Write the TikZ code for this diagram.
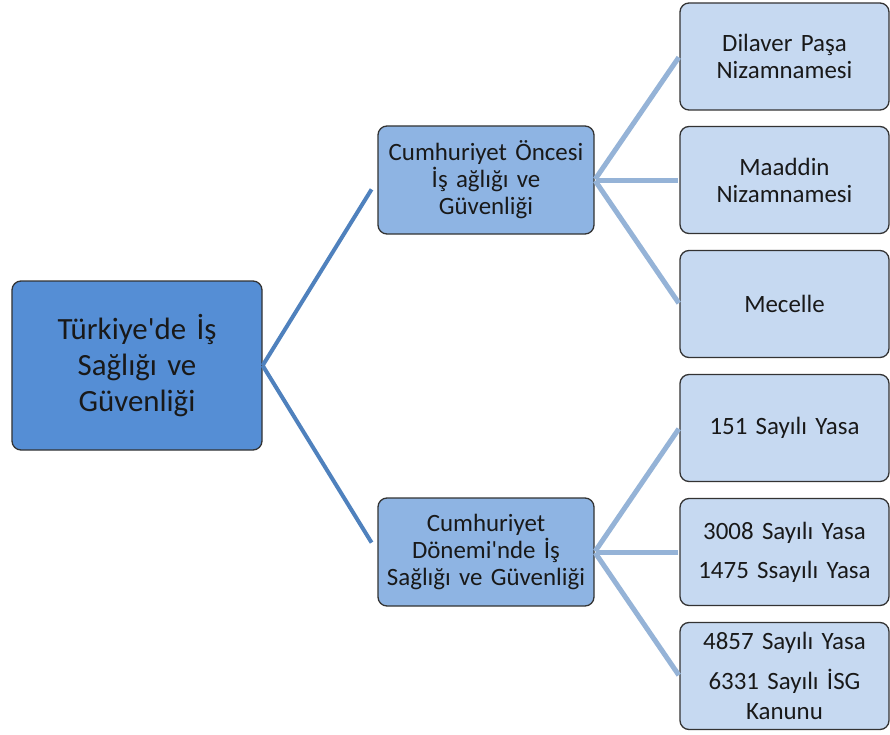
\documentclass[tikz,border=0pt]{standalone}
\usepackage{fontspec}
\setmainfont{Carlito}[WordSpace=0.85]
\usepackage{xcolor}
\definecolor{rootblue}{HTML}{558ED5}
\definecolor{midblue}{HTML}{8EB4E3}
\definecolor{leafblue}{HTML}{C6D9F1}
\definecolor{trunkblue}{HTML}{4F81BD}
\definecolor{twigblue}{HTML}{95B3D7}

\begin{document}
\begin{tikzpicture}[x=1bp,y=-1bp,
  box/.style={draw=black!80, line width=1.3bp, rounded corners=9bp, align=center, text=black!90, inner sep=0pt},
  rootbox/.style={box, fill=rootblue, minimum width=250bp, minimum height=169bp, text width=240bp, font=\fontsize{31}{36.5}\selectfont},
  midbox/.style={box, fill=midblue, minimum width=216bp, minimum height=108bp, text width=214bp, font=\fontsize{25}{27}\selectfont},
  leafbox/.style={box, fill=leafblue, minimum width=209bp, minimum height=107bp, text width=205bp, font=\fontsize{25}{27}\selectfont},
  trunk/.style={draw=trunkblue, line width=4bp},
  twig/.style={draw=twigblue, line width=5bp}]
  \useasboundingbox (0,0) rectangle (890,735);
  \node[rootbox] (root) at (137,365.5) {Türkiye\textquotesingle de İş\\ Sağlığı ve\\ Güvenliği};
  \node[midbox] (mid1) at (486,180) {Cumhuriyet Öncesi\\ İş ağlığı ve\\ Güvenliği};
  \node[midbox] (mid2) at (486,552) {Cumhuriyet\\ Dönemi\textquotesingle nde İş\\ Sağlığı ve Güvenliği};
  \foreach \name/\y/\txt in {a/56.5/{Dilaver Paşa\\ Nizamnamesi},
      b/180/{Maaddin\\ Nizamnamesi},
      c/304/{Mecelle},
      d/428/{151 Sayılı Yasa},
      e/552/{3008 Sayılı Yasa\\[12bp] 1475 Ssayılı Yasa},
      f/676/{4857 Sayılı Yasa\\[13bp] 6331 Sayılı İSG\\[3bp] Kanunu}}
    \node[leafbox] (\name) at (784.5,\y) {\txt};
  \draw[trunk, shorten >=11bp] (root.east) -- (mid1.west);
  \draw[trunk, shorten >=11bp] (root.east) -- (mid2.west);
  \foreach \m/\l in {mid1/a, mid1/b, mid1/c, mid2/d, mid2/e, mid2/f}
    \draw[twig, shorten >=1bp, shorten <=1bp] (\m.east) -- (\l.west);
\end{tikzpicture}
\end{document}
